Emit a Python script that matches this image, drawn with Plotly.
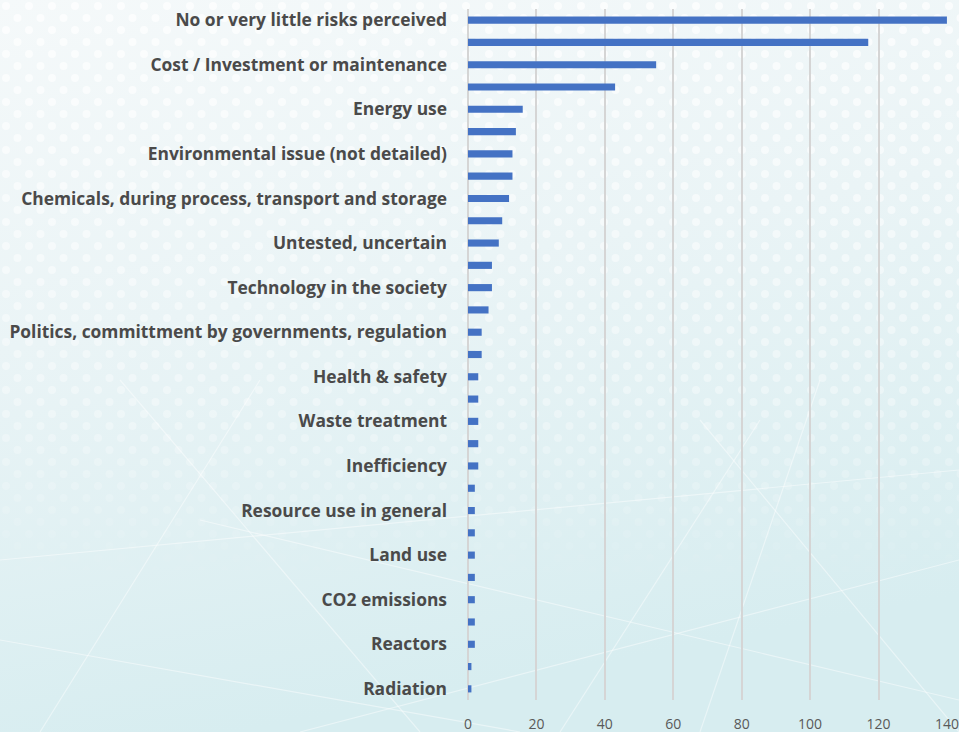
import urllib.parse
import plotly.graph_objects as go

# Perceived risks, one bar per answer category (top to bottom)
counts = [140, 117, 55, 43, 16, 14, 13, 13, 12, 10, 9, 7, 7, 6, 4, 4,
          3, 3, 3, 3, 3, 2, 2, 2, 2, 2, 2, 2, 2, 1, 1]

# Labels shown on the axis (every second category carries a label)
shown_labels = [
    "No or very little risks perceived",
    "Cost / Investment or maintenance",
    "Energy use",
    "Environmental issue (not detailed)",
    "Chemicals, during process, transport and storage",
    "Untested, uncertain",
    "Technology in the society",
    "Politics, committment by governments, regulation",
    "Health & safety",
    "Waste treatment",
    "Inefficiency",
    "Resource use in general",
    "Land use",
    "CO2 emissions",
    "Reactors",
    "Radiation",
]

x_ticks = [0, 20, 40, 60, 80, 100, 120, 140]

W, H = 959, 732
M_L, M_R, M_T, M_B = 468, 12, 9, 32

positions = list(range(len(counts)))
label_positions = positions[::2]

# Soft background: pale cyan gradient with a fading white dot pattern
lines = "".join(
    f"<line x1='{a}' y1='{b}' x2='{c}' y2='{d}' stroke='#ffffff' stroke-opacity='0.45' stroke-width='1.2'/>"
    for a, b, c, d in [
        (0, 560, 959, 470), (40, 732, 260, 380), (120, 380, 420, 732),
        (300, 732, 959, 560), (560, 732, 760, 420), (700, 420, 959, 732),
        (0, 640, 520, 732), (820, 380, 700, 732), (200, 520, 959, 700),
    ]
)
svg = (
    f"<svg xmlns='http://www.w3.org/2000/svg' width='{W}' height='{H}' viewBox='0 0 {W} {H}' preserveAspectRatio='none'>"
    "<defs>"
    "<linearGradient id='g' x1='0' y1='0' x2='0.25' y2='1'>"
    "<stop offset='0' stop-color='#f5f9fa'/>"
    "<stop offset='0.45' stop-color='#eaf4f6'/>"
    "<stop offset='1' stop-color='#d7edf0'/>"
    "</linearGradient>"
    "<pattern id='p' width='23' height='24' patternUnits='userSpaceOnUse'>"
    "<circle cx='6' cy='6' r='4' fill='#ffffff'/>"
    "<circle cx='17.5' cy='18' r='4' fill='#ffffff'/>"
    "</pattern>"
    "<linearGradient id='m' x1='0' y1='0' x2='0' y2='1'>"
    "<stop offset='0' stop-color='#ffffff' stop-opacity='0.7'/>"
    "<stop offset='0.55' stop-color='#ffffff' stop-opacity='0.35'/>"
    "<stop offset='0.8' stop-color='#ffffff' stop-opacity='0'/>"
    "</linearGradient>"
    f"<mask id='mk'><rect width='{W}' height='{H}' fill='url(#m)'/></mask>"
    "</defs>"
    f"<rect width='{W}' height='{H}' fill='url(#g)'/>"
    f"<rect width='{W}' height='{H}' fill='url(#p)' mask='url(#mk)'/>"
    + lines +
    "</svg>"
)
bg_uri = "data:image/svg+xml;charset=utf-8," + urllib.parse.quote(svg)

pw = W - M_L - M_R
ph = H - M_T - M_B

fig = go.Figure(
    go.Bar(
        x=counts,
        y=positions,
        orientation="h",
        width=0.32,
        marker=dict(color="#4472C4", line=dict(width=0)),
        hoverinfo="x",
    )
)

fig.update_layout(
    width=W,
    height=H,
    margin=dict(l=M_L, r=M_R, t=M_T, b=M_B, pad=0),
    paper_bgcolor="#e8f3f5",
    plot_bgcolor="rgba(0,0,0,0)",
    showlegend=False,
    images=[dict(
        source=bg_uri,
        xref="paper", yref="paper",
        x=-M_L / pw, y=1 + M_T / ph,
        sizex=W / pw, sizey=H / ph,
        xanchor="left", yanchor="top",
        sizing="stretch", layer="below",
    )],
    xaxis=dict(
        range=[0, 140.02],
        tickvals=x_ticks,
        showgrid=True,
        gridcolor="#d5d5d5",
        gridwidth=1.5,
        zeroline=True,
        zerolinecolor="#d5d5d5",
        zerolinewidth=2,
        showline=False,
        ticks="",
        tickfont=dict(family="Open Sans, sans-serif", size=14, color="#595959"),
        ticklabelstandoff=14,
        automargin=False,
        fixedrange=True,
    ),
    yaxis=dict(
        range=[len(counts) - 0.5, -0.5],
        tickvals=label_positions,
        ticktext=shown_labels,
        showgrid=False,
        zeroline=False,
        showline=False,
        ticks="",
        tickfont=dict(family="Open Sans, sans-serif", size=17.4, color="#4a4a4a", weight="bold"),
        ticklabelstandoff=20,
        automargin=False,
        fixedrange=True,
    ),
)

fig.write_html("out.html")
